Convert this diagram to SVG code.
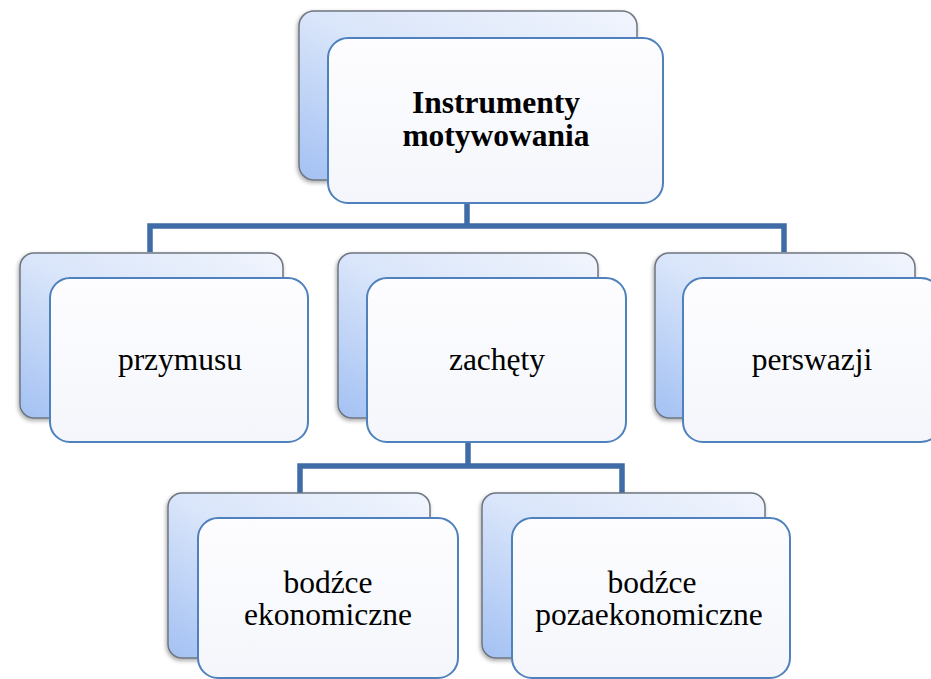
<svg xmlns="http://www.w3.org/2000/svg" width="931" height="679" viewBox="0 0 931 679">
<defs>
<linearGradient id="backGrad" x1="1" y1="0" x2="0" y2="1">
<stop offset="0" stop-color="#f1f5fd"/>
<stop offset="0.5" stop-color="#d9e5fa"/>
<stop offset="1" stop-color="#a3c1f3"/>
</linearGradient>
<linearGradient id="frontGrad" x1="0" y1="0" x2="0" y2="1">
<stop offset="0" stop-color="#fdfdff"/>
<stop offset="1" stop-color="#f4f6fb"/>
</linearGradient>
<filter id="sh" x="-10%" y="-10%" width="120%" height="120%">
<feGaussianBlur in="SourceAlpha" stdDeviation="2"/>
<feOffset dx="-1" dy="2" result="b"/>
<feComponentTransfer><feFuncA type="linear" slope="0.35"/></feComponentTransfer>
<feMerge><feMergeNode/><feMergeNode in="SourceGraphic"/></feMerge>
</filter>
</defs>
<style>
.back{fill:url(#backGrad);stroke:#6f7680;stroke-width:1.5;filter:url(#sh)}
.front{fill:url(#frontGrad);stroke:#4f81bd;stroke-width:2}
.conn{fill:none;stroke:#3f6ca6;stroke-width:5.5;stroke-linejoin:miter}
.t{font-family:"Liberation Serif","Times New Roman",serif;font-size:31.5px;fill:#000;text-anchor:middle}
.b{font-weight:bold}
</style>
<g id="connectors">
<path class="conn" d="M467,203 V226"/>
<path class="conn" d="M150,252 V226 H784 V252"/>
<path class="conn" d="M468,443 V466"/>
<path class="conn" d="M300,493 V466 H622 V493"/>
</g>
<g id="node-instrumenty">
<rect class="back" x="299" y="11" width="338" height="169" rx="15"/>
<rect class="front" x="328" y="38" width="335" height="165" rx="20"/>
<text class="t b" x="496" y="113">Instrumenty</text>
<text class="t b" x="496" y="146">motywowania</text>
</g>
<g id="node-przymusu">
<rect class="back" x="20" y="253" width="263" height="165" rx="14"/>
<rect class="front" x="50" y="278" width="258" height="164" rx="20"/>
<text class="t" x="180" y="370">przymusu</text>
</g>
<g id="node-zachety">
<rect class="back" x="338" y="253" width="260" height="165" rx="14"/>
<rect class="front" x="367" y="278" width="259" height="164" rx="20"/>
<text class="t" x="497" y="370">zachęty</text>
</g>
<g id="node-perswazji">
<rect class="back" x="655" y="253" width="260" height="165" rx="14"/>
<rect class="front" x="683" y="278" width="258" height="164" rx="20"/>
<text class="t" x="812" y="370">perswazji</text>
</g>
<g id="node-ekonomiczne">
<rect class="back" x="168" y="493" width="262" height="165" rx="14"/>
<rect class="front" x="198" y="518" width="260" height="160" rx="20"/>
<text class="t" x="328" y="593">bodźce</text>
<text class="t" x="328" y="625">ekonomiczne</text>
</g>
<g id="node-pozaekonomiczne">
<rect class="back" x="482" y="493" width="283" height="165" rx="14"/>
<rect class="front" x="512" y="518" width="278" height="160" rx="20"/>
<text class="t" x="652" y="593">bodźce</text>
<text class="t" x="649" y="625">pozaekonomiczne</text>
</g>
</svg>
